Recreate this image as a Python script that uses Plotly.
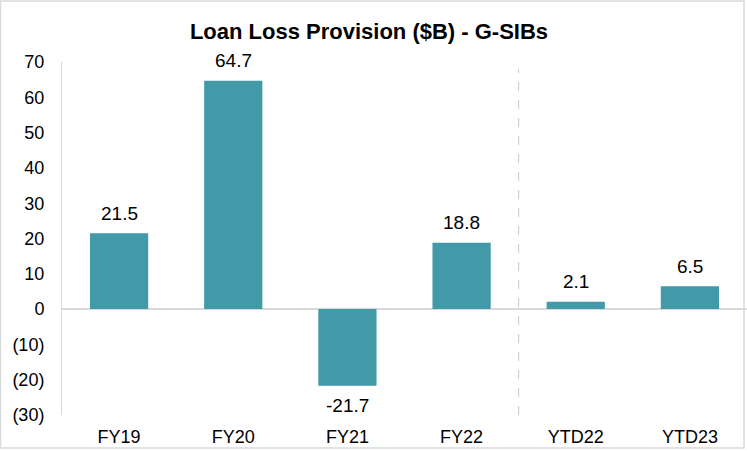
import plotly.graph_objects as go

categories = ["FY19", "FY20", "FY21", "FY22", "YTD22", "YTD23"]
values = [21.5, 64.7, -21.7, 18.8, 2.1, 6.5]
y_tick_vals = [-30, -20, -10, 0, 10, 20, 30, 40, 50, 60, 70]
y_tick_text = ["(30)", "(20)", "(10)", "0", "10", "20", "30", "40", "50", "60", "70"]

W, H = 747, 451
L, R, T, B = 62, 0, 62, 36
pw, ph = W - L - R, H - T - B

def px_x(p):
    return (p - L) / pw

def px_y(p):
    return (H - B - p) / ph

FONT = "Liberation Sans, Arial"

fig = go.Figure()
fig.add_trace(go.Bar(
    x=categories, y=values,
    marker=dict(color="#4299A8", line=dict(width=0)),
    cliponaxis=False,
    hoverinfo="skip",
))

for c, v in zip(categories, values):
    fig.add_annotation(x=c, y=v, text=f"{v:.1f}", showarrow=False,
                       xref="x", yref="y", yanchor="middle",
                       yshift=20 if v >= 0 else -20,
                       font=dict(size=19, color="#000000", family=FONT))

fig.update_layout(
    width=W, height=H,
    margin=dict(l=L, r=R, t=T, b=B, autoexpand=False),
    paper_bgcolor="white", plot_bgcolor="white",
    bargap=0.49,
    showlegend=False,
    font=dict(family=FONT, size=18, color="#000000"),
    title=dict(text="<b>Loan Loss Provision ($B) - G-SIBs</b>",
               x=369 / W, xanchor="center", y=1 - 31 / H, yanchor="middle",
               font=dict(size=22, color="#000000")),
)
fig.update_xaxes(showgrid=False, showline=False, ticks="", zeroline=False,
                 tickfont=dict(size=18), ticklabelstandoff=9, automargin=False)
fig.update_yaxes(range=[-30, 70], tickvals=y_tick_vals, ticktext=y_tick_text,
                 showgrid=False, zeroline=True, zerolinecolor="#D9D9D9", zerolinewidth=1.5,
                 showline=True, linecolor="#D9D9D9", linewidth=1, ticks="",
                 tickfont=dict(size=18), ticklabelstandoff=13, automargin=False)

# dashed separator between FY and YTD
fig.add_shape(type="line", xref="x", yref="y", x0=3.5, x1=3.5, y0=-30, y1=68,
              line=dict(color="#C8C8C8", width=1, dash="dash"))
# outer chart border
fig.add_shape(type="rect", xref="paper", yref="paper",
              x0=px_x(0.5), x1=px_x(744), y0=px_y(448), y1=px_y(1),
              line=dict(color="#D9D9D9", width=1.5), layer="below")

fig.write_html("out.html", config={"displayModeBar": False},
               post_script="document.body.style.margin='0';document.body.style.overflow='hidden';")
